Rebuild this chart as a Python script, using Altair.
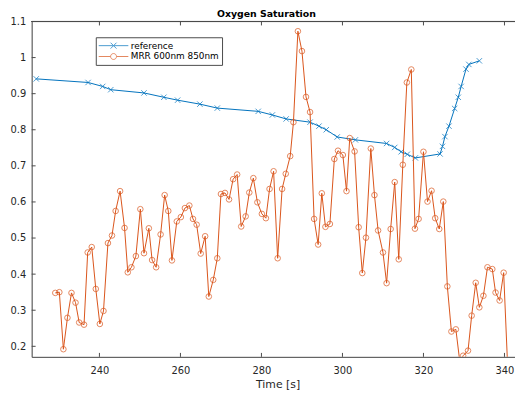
import altair as alt
import pandas as pd

# ---------------- data ----------------
ref_t = [224.4, 237.2, 240.8, 242.8, 251.0, 255.9, 259.3, 264.8, 269.1, 279.2,
         282.7, 286.1, 292.0, 294.2, 296.0, 298.7, 303.2, 310.9, 312.9, 314.5,
         316.0, 318.0, 324.1, 324.7, 325.3, 326.3, 327.7, 328.6, 329.3, 330.5,
         331.2, 333.8]
ref_v = [0.941, 0.931, 0.920, 0.911, 0.902, 0.890, 0.882, 0.871, 0.860, 0.851,
         0.841, 0.830, 0.821, 0.810, 0.800, 0.780, 0.772, 0.762, 0.751, 0.739,
         0.732, 0.722, 0.733, 0.754, 0.781, 0.810, 0.859, 0.890, 0.920, 0.968,
         0.981, 0.991]

mrr_t = [229.1, 230.1, 231.1, 232.1, 233.1, 234.1, 235.0, 236.2, 237.1, 238.1,
         239.1, 240.1, 241.0, 242.1, 243.1, 244.0, 245.1, 246.2, 247.0, 247.9,
         249.0, 250.1, 251.0, 252.2, 253.0, 254.0, 255.1, 256.1, 257.0, 257.9,
         259.1, 260.1, 261.1, 262.2, 263.1, 264.0, 265.0, 266.1, 267.0, 268.1,
         269.1, 270.0, 271.0, 272.0, 273.0, 274.0, 275.0, 276.1, 277.0, 278.0,
         279.0, 280.1, 281.1, 282.0, 283.0, 284.0, 285.1, 286.0, 287.1, 287.9,
         289.0, 290.0, 291.0, 292.0, 293.0, 294.0, 294.9, 295.8, 296.9, 298.0,
         298.9, 300.1, 301.0, 301.8, 303.0, 304.0, 304.9, 305.8, 307.0, 307.9,
         308.8, 310.0, 310.9, 311.9, 312.9, 313.9, 314.9, 315.9, 317.0, 317.9,
         318.8, 320.0, 321.0, 322.0, 322.9, 323.9, 324.9, 325.9, 326.9, 328.0,
         329.0, 329.8, 331.0, 331.9, 332.9, 333.8, 334.8, 335.8, 337.0, 337.8,
         338.8, 339.8, 340.8]
mrr_v = [0.348, 0.350, 0.192, 0.279, 0.348, 0.321, 0.266, 0.260, 0.460, 0.475,
         0.359, 0.262, 0.298, 0.486, 0.507, 0.575, 0.630, 0.528, 0.405, 0.419,
         0.450, 0.580, 0.458, 0.527, 0.439, 0.419, 0.510, 0.619, 0.575, 0.438,
         0.546, 0.558, 0.583, 0.590, 0.553, 0.537, 0.457, 0.505, 0.338, 0.384,
         0.444, 0.622, 0.625, 0.607, 0.663, 0.676, 0.532, 0.560, 0.626, 0.666,
         0.599, 0.567, 0.555, 0.636, 0.685, 0.444, 0.636, 0.678, 0.727, 0.821,
         1.073, 1.018, 0.891, 0.849, 0.553, 0.482, 0.624, 0.531, 0.539, 0.719,
         0.742, 0.730, 0.630, 0.777, 0.740, 0.530, 0.403, 0.501, 0.748, 0.619,
         0.521, 0.460, 0.375, 0.525, 0.655, 0.441, 0.703, 0.931, 0.967, 0.526,
         0.553, 0.739, 0.601, 0.631, 0.555, 0.525, 0.601, 0.366, 0.241, 0.247,
         0.155, 0.174, 0.188, 0.285, 0.376, 0.308, 0.340, 0.419, 0.414, 0.349,
         0.327, 0.404, 0.140]

series_names = ["reference", "MRR 600nm 850nm"]
series_colors = ["#0072BD", "#D95319"]
x_ticks = [240, 260, 280, 300, 320, 340]
y_ticks = [0.2, 0.3, 0.4, 0.5, 0.6, 0.7, 0.8, 0.9, 1.0, 1.1]
x_domain = [223.27, 342.6]
y_domain = [0.1708, 1.1]

assert len(ref_t) == len(ref_v)
assert len(mrr_t) == len(mrr_v)

# ---------------- styling ----------------
W, H = 490, 340
FONT = "DejaVu Sans"
AXC = "#262626"
LINEC = "#4a4a4a"
X_MARK = "M-1,-1L1,1M-1,1L1,-1"
LEG_X = "M-3,0H3M-0.6,-0.6L0.6,0.6M-0.6,0.6L0.6,-0.6"
LEG_O = "M-3,0H-0.6M0.6,0H3M0.6,0A0.6,0.6 0 1,1 -0.6,0A0.6,0.6 0 1,1 0.6,0"

ref_df = pd.DataFrame({"t": ref_t, "v": ref_v, "series": series_names[0]})
mrr_df = pd.DataFrame({"t": mrr_t, "v": mrr_v, "series": series_names[1]})
all_df = pd.concat([ref_df, mrr_df], ignore_index=True)
xt_df = pd.DataFrame({"t": x_ticks})
yt_df = pd.DataFrame({"v": y_ticks})

xs = alt.Scale(domain=x_domain, nice=False, zero=False)
ys = alt.Scale(domain=y_domain, nice=False, zero=False)

x_axis = alt.Axis(values=x_ticks, format="d", ticks=False, grid=False,
                  labelPadding=9, labelFlush=False, labelFont=FONT, labelFontSize=10,
                  labelColor=AXC, domainColor=LINEC, domainWidth=1,
                  title="Time [s]", titleFont=FONT, titleFontSize=11,
                  titleFontWeight="normal", titleColor=AXC, titlePadding=3,
                  titleX=249.3)
y_axis = alt.Axis(values=y_ticks, format=".1~f", ticks=False, grid=False,
                  labelPadding=6, labelFlush=False, labelFont=FONT, labelFontSize=10,
                  labelColor=AXC, domainColor=LINEC, domainWidth=1, title=None)

X = alt.X("t:Q", scale=xs, axis=x_axis)
Y = alt.Y("v:Q", scale=ys, axis=y_axis)

leg = alt.Legend(orient="none", legendX=65, legendY=16, title=None, padding=3,
                 rowPadding=0, symbolSize=100, symbolStrokeWidth=1,
                 symbolOffset=9.5, labelOffset=12, labelFont=FONT, labelFontSize=9,
                 labelColor="black", strokeColor=LINEC, fillColor="white",
                 labelLimit=0)

legend_layer = alt.Chart(all_df).transform_filter("false").mark_point(
    filled=False, size=100, strokeWidth=1
).encode(
    x=X, y=Y,
    color=alt.Color("series:N", scale=alt.Scale(domain=series_names, range=series_colors),
                    legend=leg, sort=series_names),
    shape=alt.Shape("series:N", scale=alt.Scale(domain=series_names, range=[LEG_X, LEG_O]),
                    legend=leg, sort=series_names),
)

ref_line = alt.Chart(ref_df).mark_line(color=series_colors[0], strokeWidth=1, clip=True).encode(x=X, y=Y)
ref_pts = alt.Chart(ref_df).mark_point(shape=X_MARK, size=30, filled=False,
                                       color=series_colors[0], strokeWidth=1, clip=True).encode(x=X, y=Y)
mrr_line = alt.Chart(mrr_df).mark_line(color=series_colors[1], strokeWidth=1, clip=True).encode(x=X, y=Y)
mrr_pts = alt.Chart(mrr_df).mark_point(shape="circle", size=32, filled=False,
                                       color=series_colors[1], strokeWidth=1, clip=True).encode(x=X, y=Y)

bot_ticks = alt.Chart(xt_df).mark_rule(color=LINEC, strokeWidth=1).encode(
    x=X, y=alt.value(H), y2=alt.value(H - 4))
top_ticks = alt.Chart(xt_df).mark_rule(color=LINEC, strokeWidth=1).encode(
    x=X, y=alt.value(0), y2=alt.value(4))
left_ticks = alt.Chart(yt_df).mark_rule(color=LINEC, strokeWidth=1).encode(
    y=Y, x=alt.value(0), x2=alt.value(4))
top_line = alt.Chart(xt_df).mark_rule(color=LINEC, strokeWidth=1).encode(
    x=alt.value(0), x2=alt.value(W), y=alt.value(0))

chart = alt.layer(
    legend_layer, ref_line, ref_pts, mrr_line, mrr_pts,
    bot_ticks, top_ticks, left_ticks, top_line
).properties(
    width=W, height=H,
    title=alt.TitleParams("Oxygen Saturation", font=FONT, fontSize=9.5, fontWeight="bold",
                          color="black", anchor="middle", dx=-7, dy=1.5, offset=0),
    autosize=alt.AutoSizeParams(type="none"),
    padding={"left": 24, "top": 11, "right": 0, "bottom": 36},
).configure_view(stroke=None).configure(background="white")

chart.save("out.html", embed_options={"renderer": "svg", "actions": False})
